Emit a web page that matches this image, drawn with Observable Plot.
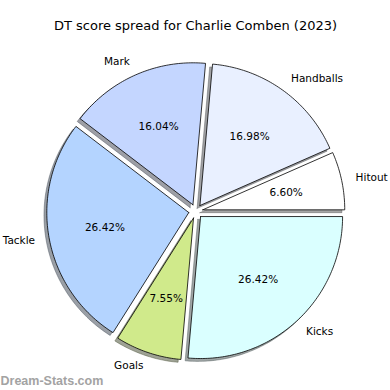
<!DOCTYPE html>
<html>
<head>
<meta charset="utf-8">
<script src="https://cdn.jsdelivr.net/npm/d3@7"></script>
<script src="https://cdn.jsdelivr.net/npm/@observablehq/plot@0.6"></script>
<style>
  html, body { margin: 0; padding: 0; background: #fff; }
  svg { display: block; }
</style>
</head>
<body>
<div id="chart"></div>
<script>
const title = "DT score spread for Charlie Comben (2023)";
const watermark = "Dream-Stats.com";
const categories = ["Hitout", "Handballs", "Mark", "Tackle", "Goals", "Kicks"];
const values = [7, 18, 17, 28, 8, 28];
const colors = ["#ffffff", "#e9f0ff", "#c4d6ff", "#b4d4ff", "#d0ea8b", "#daffff"];
const explode = [0.05, 0.05, 0.05, 0.05, 0.05, 0.05];

const total = d3.sum(values);
const rad = Math.PI / 180;
const shadowOffset = 0.02;

// Build wedge geometry (unit radius, y up), angles from data
let cum = 0;
const slices = values.map((v, i) => {
  const t1 = 360 * cum / total;
  cum += v;
  const t2 = 360 * cum / total;
  const mid = (t1 + t2) / 2;
  const cx = explode[i] * Math.cos(mid * rad);
  const cy = explode[i] * Math.sin(mid * rad);
  const pts = [{x: cx, y: cy}];
  const n = Math.max(2, Math.ceil(t2 - t1));
  for (let k = 0; k <= n; k++) {
    const t = (t1 + (t2 - t1) * k / n) * rad;
    pts.push({x: cx + Math.cos(t), y: cy + Math.sin(t)});
  }
  pts.push({x: cx, y: cy});
  return {name: categories[i], value: v, color: colors[i], mid, cx, cy, pts};
});

function shade(c) {
  const r = d3.rgb(c);
  return d3.rgb(r.r * 0.3, r.g * 0.3, r.b * 0.3).formatHex();
}

const labelData = slices.map(s => ({
  x: s.cx + 1.1 * Math.cos(s.mid * rad),
  y: s.cy + 1.1 * Math.sin(s.mid * rad),
  text: s.name,
  right: Math.cos(s.mid * rad) > 0
}));
const pctData = slices.map(s => ({
  x: s.cx + 0.6 * Math.cos(s.mid * rad),
  y: s.cy + 0.6 * Math.sin(s.mid * rad),
  text: (100 * s.value / total).toFixed(2) + "%"
}));

const R = 142, CX = 195.3, CY = 210.8, W = 390, H = 390;

const marks = [];
slices.forEach(s => {
  marks.push(Plot.line(s.pts.map(p => ({x: p.x - shadowOffset, y: p.y - shadowOffset})), {
    x: "x", y: "y", fill: shade(s.color), fillOpacity: 0.5,
    stroke: shade(s.color), strokeOpacity: 0.5, strokeWidth: 0.8
  }));
});
slices.forEach(s => {
  marks.push(Plot.line(s.pts, {
    x: "x", y: "y", fill: s.color, stroke: "#000", strokeWidth: 0.8,
    strokeLinejoin: "miter"
  }));
});
marks.push(Plot.text(labelData.filter(d => d.right), {
  x: "x", y: "y", text: "text", textAnchor: "start", fontSize: 10.5, fill: "#000"
}));
marks.push(Plot.text(labelData.filter(d => !d.right), {
  x: "x", y: "y", text: "text", textAnchor: "end", fontSize: 10.5, fill: "#000"
}));
marks.push(Plot.text(pctData, {
  x: "x", y: "y", text: "text", fontSize: 10.5, fill: "#000"
}));
marks.push(Plot.text([title], {
  frameAnchor: "top", lineAnchor: "middle", dy: 25.5, fontSize: 13, fill: "#000"
}));
marks.push(Plot.text([watermark], {
  frameAnchor: "bottom-left", textAnchor: "start", lineAnchor: "middle", dy: -10, dx: 0,
  fontSize: 12.5, fontWeight: "bold", fontFamily: "Liberation Sans", fill: "#a3a3a3"
}));

const chart = Plot.plot({
  width: W, height: H, margin: 0,
  style: {fontFamily: "DejaVu Sans", background: "#fff"},
  x: {domain: [-CX / R, (W - CX) / R], axis: null},
  y: {domain: [(CY - H) / R, CY / R], axis: null},
  marks
});
document.getElementById("chart").appendChild(chart);
</script>
</body>
</html>
